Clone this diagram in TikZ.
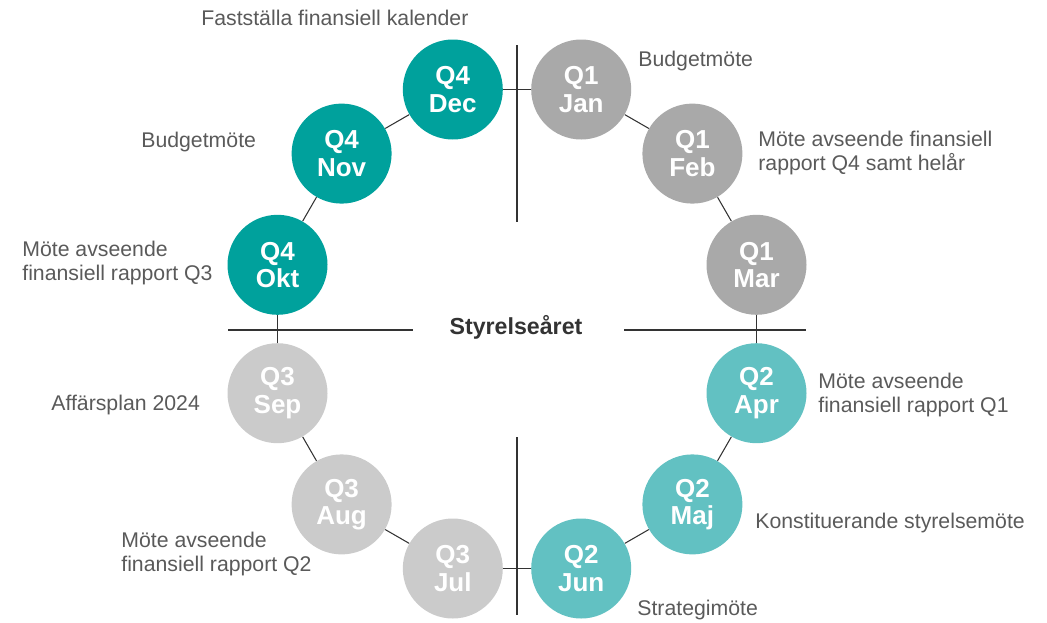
\documentclass[tikz,border=0pt]{standalone}
\usepackage{fontspec}
\setmainfont{Liberation Sans}
\usepackage{tikz}

\definecolor{qfyra}{HTML}{00A19C}
\definecolor{qett}{HTML}{A9A9A9}
\definecolor{qtva}{HTML}{62C1C2}
\definecolor{qtre}{HTML}{CBCBCB}
\definecolor{linje}{HTML}{333333}
\definecolor{notis}{HTML}{5A5A5A}

\begin{document}
\begin{tikzpicture}[x=0.02cm, y=-0.02cm, thin,
        month/.style={circle, minimum size=100*0.02cm, inner sep=0pt, text=white, align=center,
            font=\bfseries\fontsize{14.8}{15.5}\selectfont},
        qfour/.style={month, fill=qfyra},
        qone/.style={month, fill=qett},
        qtwo/.style={month, fill=qtva},
        qthree/.style={month, fill=qtre},
        note/.style={anchor=west, text=notis, align=left, inner sep=0pt,
            font=\fontsize{12.1}{13.6}\selectfont},
        ring/.style={draw=linje, line width=0.6pt},
        axis/.style={draw=linje, line width=0.7pt}]
        \useasboundingbox (0,0) rectangle (1047,622);

        % Axes
        \draw[axis] (517,45) -- (517,222);
        \draw[axis] (517,437) -- (517,615);
        \draw[axis] (228,330) -- (413,330);
        \draw[axis] (624,330) -- (806,330);
        \node[font=\bfseries\fontsize{13.2}{14}\selectfont, text=linje] (title) at (516,327) {Styrelseåret};

        % Months
        \node[qone] (jan) at (581.2,89.5) {Q1\\Jan};
        \node[qone] (feb) at (692.4,153.6) {Q1\\Feb};
        \node[qone] (mar) at (756.5,264.8) {Q1\\Mar};
        \node[qtwo] (apr) at (756.5,393.2) {Q2\\Apr};
        \node[qtwo] (maj) at (692.4,504.4) {Q2\\Maj};
        \node[qtwo] (jun) at (581.2,568.5) {Q2\\Jun};
        \node[qthree] (jul) at (452.8,568.5) {Q3\\Jul};
        \node[qthree] (aug) at (341.6,504.4) {Q3\\Aug};
        \node[qthree] (sep) at (277.5,393.2) {Q3\\Sep};
        \node[qfour] (okt) at (277.5,264.8) {Q4\\Okt};
        \node[qfour] (nov) at (341.6,153.6) {Q4\\Nov};
        \node[qfour] (dec) at (452.8,89.5) {Q4\\Dec};

        % Ring
        \draw[ring] (jan) -- (feb);
        \draw[ring] (feb) -- (mar);
        \draw[ring] (mar) -- (apr);
        \draw[ring] (apr) -- (maj);
        \draw[ring] (maj) -- (jun);
        \draw[ring] (jun) -- (jul);
        \draw[ring] (jul) -- (aug);
        \draw[ring] (aug) -- (sep);
        \draw[ring] (sep) -- (okt);
        \draw[ring] (okt) -- (nov);
        \draw[ring] (nov) -- (dec);
        \draw[ring] (dec) -- (jan);

        % Notes
        \node[note] (njan) at (638,61) {Budgetmöte};
        \node[note] (nfeb) at (758,153) {Möte avseende finansiell\\rapport Q4 samt helår};
        \node[note] (napr) at (818,395) {Möte avseende\\finansiell rapport Q1};
        \node[note] (nmaj) at (755,523) {Konstituerande styrelsemöte};
        \node[note] (njun) at (637,610) {Strategimöte};
        \node[note] (njul) at (121,554) {Möte avseende\\finansiell rapport Q2};
        \node[note] (nsep) at (51,405) {Affärsplan 2024};
        \node[note] (nokt) at (22,263) {Möte avseende\\finansiell rapport Q3};
        \node[note] (nnov) at (141,142) {Budgetmöte};
        \node[note] (ndec) at (201,18) {Fastställa finansiell kalender};
\end{tikzpicture}
\end{document}
